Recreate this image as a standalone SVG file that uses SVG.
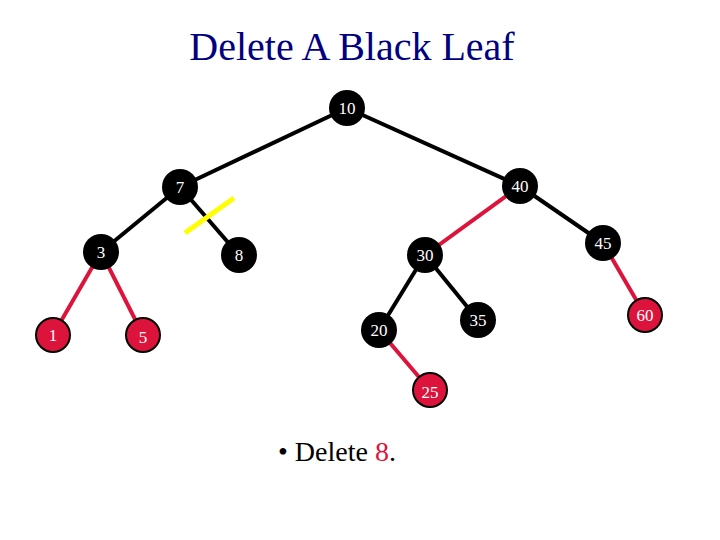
<svg xmlns="http://www.w3.org/2000/svg" width="720" height="540" viewBox="0 0 720 540">
<style>
.b{fill:#000}.r{fill:#dc143c;stroke:#000;stroke-width:2}
.t{fill:#fff;font-family:"Liberation Serif",serif;font-size:17px;text-anchor:middle}
.e{stroke:#000;stroke-width:4}.er{stroke:#dc143c;stroke-width:4}
</style>
<rect width="720" height="540" fill="#fff"/>
<text x="352" y="60" font-family="Liberation Serif,serif" font-size="40" fill="#000080" text-anchor="middle">Delete A Black Leaf</text>
<g id="connectors">
<line class="e" x1="347" y1="108" x2="180" y2="187"/>
<line class="e" x1="347" y1="108" x2="520" y2="186"/>
<line class="e" x1="180" y1="187" x2="101" y2="252"/>
<line class="e" x1="180" y1="187" x2="239" y2="255"/>
<line class="er" x1="101" y1="252" x2="53" y2="335"/>
<line class="er" x1="101" y1="252" x2="143" y2="335"/>
<line class="er" x1="520" y1="186" x2="425" y2="255"/>
<line class="e" x1="520" y1="186" x2="603" y2="243"/>
<line class="er" x1="603" y1="243" x2="645" y2="315"/>
<line class="e" x1="425" y1="255" x2="379" y2="330"/>
<line class="e" x1="425" y1="255" x2="478" y2="320"/>
<line class="er" x1="379" y1="330" x2="430" y2="390"/>
<line x1="185" y1="233" x2="234" y2="198" stroke="#ffff00" stroke-width="5"/>
</g>
<g id="n10"><circle class="b" cx="347" cy="108" r="18"/><text class="t" x="347" y="114">10</text></g>
<g id="n7"><circle class="b" cx="180" cy="187" r="18"/><text class="t" x="180" y="193">7</text></g>
<g id="n40"><circle class="b" cx="520" cy="186" r="18"/><text class="t" x="520" y="192">40</text></g>
<g id="n3"><circle class="b" cx="101" cy="252" r="18"/><text class="t" x="101" y="258">3</text></g>
<g id="n8"><circle class="b" cx="239" cy="255" r="18"/><text class="t" x="239" y="261">8</text></g>
<g id="n30"><circle class="b" cx="425" cy="255" r="18"/><text class="t" x="425" y="261">30</text></g>
<g id="n45"><circle class="b" cx="603" cy="243" r="18"/><text class="t" x="603" y="249">45</text></g>
<g id="n1"><circle class="r" cx="53" cy="335" r="17"/><text class="t" x="53" y="341">1</text></g>
<g id="n5"><circle class="r" cx="143" cy="335" r="17"/><text class="t" x="143" y="343">5</text></g>
<g id="n20"><circle class="b" cx="379" cy="330" r="18"/><text class="t" x="379" y="336">20</text></g>
<g id="n35"><circle class="b" cx="478" cy="320" r="18"/><text class="t" x="478" y="326">35</text></g>
<g id="n60"><circle class="r" cx="645" cy="315" r="17"/><text class="t" x="645" y="321">60</text></g>
<g id="n25"><circle class="r" cx="430" cy="390" r="17"/><text class="t" x="430" y="398">25</text></g>
<text x="278" y="461" font-family="Liberation Serif,serif" font-size="28" fill="#000">• Delete <tspan fill="#dc143c">8</tspan>.</text>
</svg>
